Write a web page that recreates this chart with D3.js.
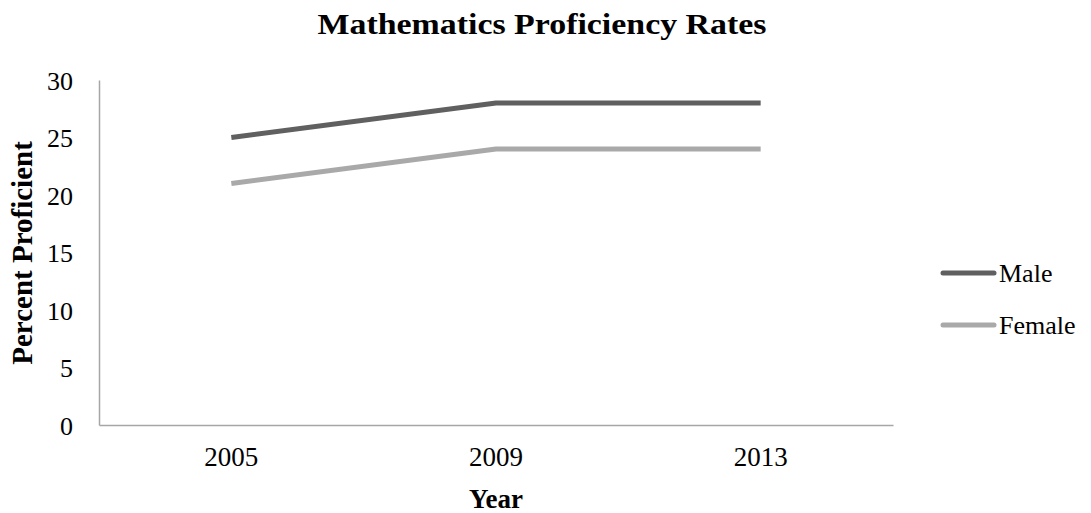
<!DOCTYPE html>
<html>
<head>
<meta charset="utf-8">
<script src="https://cdn.jsdelivr.net/npm/d3@7"></script>
<style>
  body { margin: 0; background: #fff; }
  text { font-family: "Liberation Serif", "Times New Roman", serif; fill: #000; }
  .line { fill: none; stroke-width: 5; stroke-linejoin: round; }
</style>
</head>
<body>
<script>
// chart data
var years = ["2005", "2009", "2013"];
var male = [25, 28, 28];
var female = [21, 24, 24];
var yTicks = [0, 5, 10, 15, 20, 25, 30];
var seriesNames = ["Male", "Female"];
var seriesColors = ["#606060", "#a9a9a9"];

// dimensions and margins
var margin = {top: 80, right: 198, bottom: 88, left: 99},
    width = 1091 - margin.left - margin.right,
    height = 513 - margin.top - margin.bottom;

var x = d3.scaleBand().domain(years).range([0, width]),
    y = d3.scaleLinear().domain([0, 30]).range([height, 0]);

var svg = d3.select("body").append("svg")
    .attr("width", 1091)
    .attr("height", 513);

var g = svg.append("g")
    .attr("transform", "translate(" + margin.left + "," + margin.top + ")");

// title (Cambria-like width, stretched a little)
svg.append("text")
   .attr("x", 542).attr("y", 34)
   .attr("text-anchor", "middle")
   .attr("textLength", 449)
   .attr("lengthAdjust", "spacingAndGlyphs")
   .style("font-weight", "bold")
   .style("font-size", "30px")
   .text("Mathematics Proficiency Rates");

// y axis
var yAxis = g.append("g")
   .call(d3.axisLeft(y).tickValues(yTicks).tickSize(0).tickPadding(26));
yAxis.select(".domain").attr("stroke", "#a6a6a6").attr("stroke-width", 1.5);
yAxis.selectAll("text").style("font-size", "26px").attr("font-family", null).attr("dy", "0.35em");

// x axis
var xAxis = g.append("g")
   .attr("transform", "translate(0," + height + ")")
   .call(d3.axisBottom(x).tickSize(0).tickPadding(22));
xAxis.select(".domain").attr("stroke", "#a6a6a6").attr("stroke-width", 1.5);
xAxis.selectAll("text").style("font-size", "27px").attr("font-family", null);

// axis titles
svg.append("text")
   .attr("transform", "translate(32,253) rotate(-90)")
   .attr("text-anchor", "middle")
   .style("font-weight", "bold")
   .style("font-size", "29px")
   .text("Percent Proficient");

svg.append("text")
   .attr("x", margin.left + x("2009") + x.bandwidth() / 2).attr("y", 508)
   .attr("text-anchor", "middle")
   .style("font-weight", "bold")
   .style("font-size", "27px")
   .text("Year");

// lines
var valueLine = d3.line()
    .x(function(d, i){ return x(years[i]) + x.bandwidth() / 2; })
    .y(function(d){ return y(d); });

[male, female].forEach(function(series, i) {
    g.append("path")
     .datum(series)
     .attr("class", "line")
     .attr("stroke", seriesColors[i])
     .attr("d", valueLine);
});

// legend
var legend = svg.append("g").attr("transform", "translate(941,273)");
seriesNames.forEach(function(name, i) {
    var row = legend.append("g").attr("transform", "translate(0," + (i * 52) + ")");
    row.append("line")
       .attr("x1", 2).attr("x2", 53)
       .attr("stroke", seriesColors[i])
       .attr("stroke-width", 5)
       .attr("stroke-linecap", "round");
    row.append("text")
       .attr("x", 58).attr("dy", "0.35em")
       .style("font-size", "26px")
       .text(name);
});
</script>
</body>
</html>
